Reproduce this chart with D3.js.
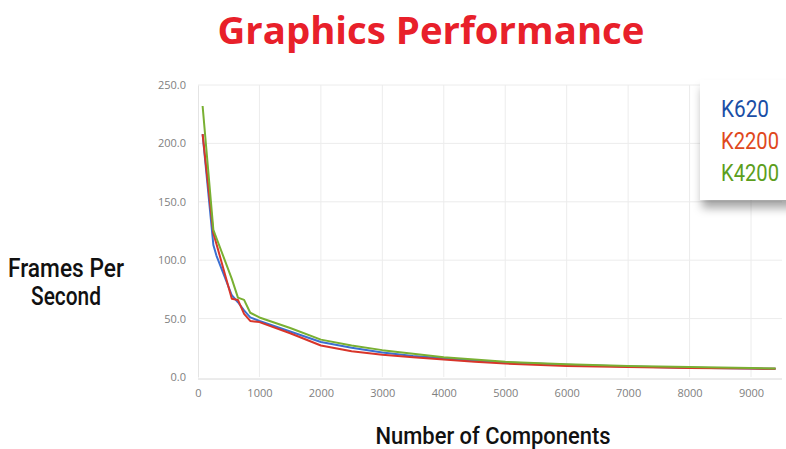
<!DOCTYPE html>
<html><head><meta charset="utf-8">
<script src="https://cdn.jsdelivr.net/npm/d3@7"></script>
<style>body{margin:0;background:#fff}svg{display:block}</style>
</head><body>
<svg id="c" width="786" height="449"></svg>
<script>
const components = [75, 250, 300, 550, 650, 750, 850, 1000, 1500, 2000, 2500, 3000, 3500, 4000, 4500, 5000, 6000, 7000, 8000, 9000, 9400];
const k620  = [208, 113, 104, 70, 64, 57, 51, 48, 39, 30, 25, 21, 18, 16, 14, 12.5, 10.5, 9, 8, 7.3, 7];
const k2200 = [208, 123, 114, 67, 66, 54, 48, 47, 37.5, 27, 22, 19, 17, 15, 13, 11.5, 9.5, 8.5, 7.8, 7.3, 7];
const k4200 = [232, 126, 119, 84, 68, 66, 55, 51, 42, 32, 27, 23, 20, 17, 15, 13, 11, 9.5, 8.5, 7.6, 7.2];
const seriesNames = ["K620", "K2200", "K4200"];
const lineColors = ["#3b6fd1", "#d8352a", "#79b032"];
const textColors = ["#1a4ea6", "#e0481c", "#5c9e1c"];
const yTicks = [0, 50, 100, 150, 200, 250];
const xTicks = [0, 1000, 2000, 3000, 4000, 5000, 6000, 7000, 8000, 9000];

const svg = d3.select("#c");
const x = d3.scaleLinear().domain([0, 9000]).range([198, 751]);
const y = d3.scaleLinear().domain([0, 250]).range([377, 85]);
const right = 782;

const defs = svg.append("defs");
const f = defs.append("filter").attr("id","sh").attr("x","-20%").attr("y","-20%").attr("width","150%").attr("height","150%");
f.append("feDropShadow").attr("dx",2).attr("dy",8).attr("stdDeviation",5).attr("flood-color","#000").attr("flood-opacity",0.35);

// grid
svg.append("g").selectAll("line").data(xTicks.slice(1)).join("line")
  .attr("x1", d=>x(d)).attr("x2", d=>x(d)).attr("y1", y(250)).attr("y2", y(0))
  .attr("stroke","#ececec").attr("stroke-width",1);
svg.append("g").selectAll("line").data(yTicks.slice(1)).join("line")
  .attr("x1", x(0)).attr("x2", right).attr("y1", d=>y(d)).attr("y2", d=>y(d))
  .attr("stroke","#ececec").attr("stroke-width",1);

// axes
const xa = svg.append("g").attr("transform",`translate(0,${y(0)+2})`)
  .call(d3.axisBottom(x).tickValues(xTicks).tickSize(0).tickPadding(10).tickFormat(d3.format("d")));
xa.select(".domain").attr("d",`M${x(0)},0H${right}`).attr("stroke","#d8d8d8");
const ya = svg.append("g").attr("transform",`translate(${x(0)},0)`)
  .call(d3.axisLeft(y).tickValues(yTicks).tickSize(0).tickPadding(12).tickFormat(d3.format(".1f")));
ya.select(".domain").attr("stroke","#e4e4e4");
svg.selectAll(".tick text").attr("fill","#808080").attr("font-family","'Open Sans', sans-serif").attr("font-size","11px");

// lines
const series = [k620, k2200, k4200];
const line = d3.line().x((d,i)=>x(components[i])).y(d=>y(d)).curve(d3.curveLinear);
series.forEach((s,i)=>{
  svg.append("path").datum(s).attr("d", line).attr("fill","none")
    .attr("stroke", lineColors[i]).attr("stroke-width",2).attr("stroke-linejoin","round");
});

// legend
svg.append("rect").attr("x",700).attr("y",80).attr("width",100).attr("height",120)
  .attr("fill","#fff").attr("filter","url(#sh)");
svg.append("g").selectAll("text").data(seriesNames).join("text")
  .attr("x",721).attr("y",(d,i)=>117+i*32).text(d=>d)
  .attr("fill",(d,i)=>textColors[i]).attr("font-family","Roboto, sans-serif")
  .attr("font-size","23px").attr("textLength",(d,i)=>[48,58,58][i]).attr("lengthAdjust","spacingAndGlyphs");

// title
svg.append("text").attr("x",431).attr("y",44).attr("text-anchor","middle")
  .attr("font-family","'Open Sans', sans-serif").attr("font-weight",700).attr("font-size","38px")
  .attr("fill","#e8202a").attr("textLength",427).attr("lengthAdjust","spacingAndGlyphs").text("Graphics Performance");

// axis labels
const labFont = "Roboto, sans-serif";
const yl = svg.append("text").attr("text-anchor","middle").attr("font-family",labFont).attr("font-weight",500).attr("font-size","26px").attr("fill","#111");
yl.append("tspan").attr("x",66).attr("y",277).attr("textLength",116).attr("lengthAdjust","spacingAndGlyphs").text("Frames Per");
yl.append("tspan").attr("x",66).attr("y",305).attr("textLength",70).attr("lengthAdjust","spacingAndGlyphs").text("Second");
svg.append("text").attr("x",493).attr("y",444).attr("text-anchor","middle")
  .attr("font-family",labFont).attr("font-weight",500).attr("font-size","23px").attr("fill","#111")
  .attr("textLength",235).attr("lengthAdjust","spacingAndGlyphs").text("Number of Components");
</script>
</body></html>
